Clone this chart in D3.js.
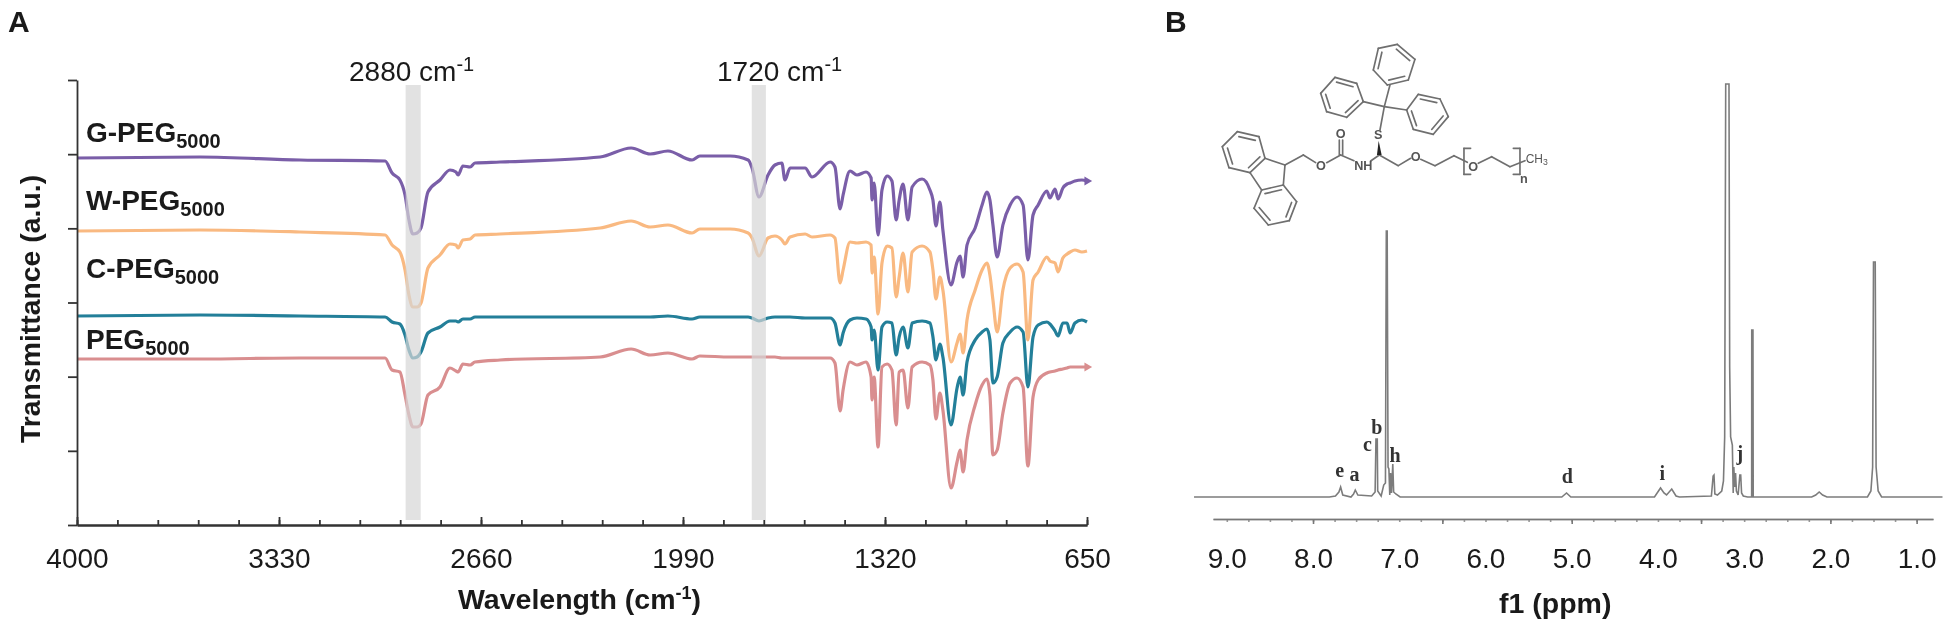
<!DOCTYPE html>
<html lang="en">
<head>
  <meta charset="UTF-8">
  <title>FTIR and NMR spectra</title>
  <script src="https://d3js.org/d3.v7.min.js"></script>
  <style>
    body { margin: 0; background: #fff; }
    svg { display: block; filter: blur(0.45px); }
    text { font-family: "Liberation Sans", Arial, sans-serif; fill: #1a1a1a; }
    .serif { font-family: "Liberation Serif", "Times New Roman", serif; fill: #333; font-weight: bold; }
    .mol { font-family: "Liberation Sans", Arial, sans-serif; fill: #555; }
  </style>
</head>
<body>
<div id="chart"></div>
<script>
// panel A - shared wavenumber grid (cm-1)
var wavenumbers = [
  4000,3592,3260,2978,2955,2929,2912,2899,2886,2872,
  2859,2836,2796,2763,2743,2736,2720,2696,2680,2597,
  2265,2162,2099,2040,1960,1934,1834,1774,1761,1738,
  1708,1685,1662,1652,1635,1585,1562,1502,1486,1469,
  1459,1436,1413,1383,1366,1363,1356,1343,1330,1313,
  1297,1283,1273,1260,1244,1230,1197,1171,1161,1151,
  1138,1128,1101,1081,1071,1061,1048,1021,998,982,
  972,962,948,929,905,882,862,846,829,812,
  783,773,756,746,730,716,706,690,667,650];

var gPeg = [
  367,368,365,364,352,345,330,305,291,292,
  297,333,345,355,353,350,359,358,362,363,
  368,377,371,374,365,369,369,365,357,328,
  350,360,362,345,357,357,348,363,358,316,
  330,354,350,353,347,325,342,290,335,349,
  344,305,325,341,305,338,346,335,325,299,
  323,295,240,263,269,248,280,297,320,333,
  325,300,268,300,320,328,320,265,310,320,
  334,327,336,326,337,341,342,344,345,344];
var wPeg = [
  294,295,293,290,280,273,255,230,218,218,
  222,257,270,281,280,277,285,286,290,291,
  297,304,298,300,292,296,296,292,287,269,
  287,289,285,281,288,291,288,290,287,242,
  255,283,282,283,280,252,268,211,262,279,
  277,228,248,272,233,273,279,273,255,226,
  248,235,163,182,191,172,205,235,255,262,
  250,225,193,235,257,261,253,185,245,253,
  268,264,262,253,267,271,273,275,273,274];
var cPeg = [
  209,210,209,208,203,201,190,175,167,168,
  173,192,198,204,204,203,206,206,208,208,
  208,208,208,209,206,208,208,208,207,204,
  207,208,208,208,208,207,207,207,202,180,
  192,205,207,206,198,185,195,155,198,203,
  202,170,188,198,177,202,204,202,188,165,
  181,168,100,137,148,130,163,185,193,196,
  185,142,148,182,193,198,193,138,188,200,
  203,201,194,189,202,202,192,202,205,203];
var peg = [
  166,166,167,167,155,153,130,110,98,98,
  101,130,138,157,154,153,161,160,163,165,
  168,176,170,172,166,169,168,168,168,168,
  168,168,167,167,167,167,167,167,162,114,
  135,163,160,163,148,125,148,78,158,161,
  155,100,153,155,117,158,163,160,145,106,
  132,115,37,63,75,53,85,120,140,146,
  130,70,75,112,142,147,138,59,128,145,
  152,153,154,155,156,157,158,158,158,158];

var xMajor = [4000,3330,2660,1990,1320,650];
var xMinor = d3.range(4000, 640, -134);
var yTicks = [0,1,2,3,4,5,6].map(function (d) { return d * 445 / 6; });

// panel B - 1H NMR trace, ppm against intensity
var ppm = [
  9.38,7.81,7.74,7.70,7.68,7.655,7.56,7.53,7.51,7.48,
  7.32,7.28,7.27,7.255,7.25,7.21,7.18,7.16,7.15,7.14,
  7.13,7.12,7.11,7.10,7.09,7.075,7.065,7.04,6.99,
  5.115,5.06,5.01,
  4.04,3.97,3.93,3.90,3.84,3.79,3.75,
  3.38,3.36,3.35,3.34,3.31,3.26,3.24,3.226,3.214,3.176,3.168,3.157,3.137,3.127,
  3.12,3.11,3.10,3.09,3.07,3.05,3.04,3.03,3.01,2.96,
  2.913,2.912,2.898,2.895,
  2.217,2.17,2.13,2.09,2.04,
  1.57,1.53,1.51,1.50,1.48,1.47,1.446,1.406,0.70];
var intensity = [
  0,0,1,5,10,2,0,3,7,2,
  1,5,58,58,6,1,12,14,266,266,
  30,28,2,24,4,33,5,3,0,
  0,4,0,
  0,9,4,2,8,1,0,
  1,21,22,3,2,6,16,60,413,413,130,60,52,4,
  30,10,24,6,2,22,22,4,1,0,
  0,167,167,0,
  0,2,5,2,0,
  0,6,30,235,235,30,6,0,0];

var ppmLabels = [9,8,7,6,5,4,3,2,1];
var ppmMinor = d3.range(9, 0.9, -0.25);
var ppmMajor = [8,6.5,5,3.5,2,1];
var peakNames = ["e","a","c","b","h","d","i","j"];
var peakPpm = [7.69,7.52,7.37,7.26,7.05,5.05,3.95,3.05];
var peakHeight = [20,16,46,63,35,14,17,37];

// molecule, drawn in a 3x grid
var rings = [
  [[742,133],[795,178],[775,240],[712,255],[670,210],[685,145]],
  [[555,232],[620,250],[640,305],[590,352],[530,335],[512,280]],
  [[805,283],[870,297],[895,350],[850,403],[790,388],[770,330]],
  [[262,395],[327,410],[345,475],[300,518],[237,503],[217,440]],
  [[335,570],[400,555],[440,605],[418,662],[355,675],[312,625]]
];
var bonds = [
  [[703,320],[720,255]],[[703,320],[640,305]],[[703,320],[770,330]],[[703,320],[690,390]],
  [[688,465],[662,483]],[[612,482],[572,465]],[[568,465],[568,420]],[[578,465],[578,420]],
  [[572,465],[530,488]],[[497,488],[460,465]],[[460,465],[405,495]],[[405,495],[345,475]],
  [[405,495],[400,555]],[[335,570],[300,518]],
  [[688,465],[745,497]],[[745,497],[782,475]],[[812,478],[855,497]],[[855,497],[912,467]],
  [[912,467],[952,487]],[[985,490],[1025,470]],[[1025,470],[1080,500]],[[1080,500],[1125,482]],
  [[962,445],[942,445]],[[942,445],[942,523]],[[942,523],[962,523]],
  [[1090,445],[1110,445]],[[1110,445],[1110,523]],[[1110,523],[1090,523]]
];
var atoms = [
  ["O",572,415],["O",513,509],["NH",640,511],["S",685,416],["O",797,482],["O",970,512],["n",1122,548]
];

var width = 1950, height = 627;
var svg = d3.select("#chart").append("svg").attr("width", width).attr("height", height);

// ---- panel A ----
var x = d3.scaleLinear().domain([4000, 650]).range([77, 1087]);
var y = d3.scaleLinear().domain([0, 445]).range([525, 80]);

var lineA = d3.line()
  .x(function (d) { return x(d[0]); })
  .y(function (d) { return y(d[1]); })
  .curve(d3.curveMonotoneX);

// pink first, purple last so the overlaps fall like the original
var series = [
  { values: peg,  color: "#d98e8f", tip: true },
  { values: cPeg, color: "#237f99", tip: false },
  { values: wPeg, color: "#f9b981", tip: false },
  { values: gPeg, color: "#7a5ea8", tip: true }
];
series.forEach(function (s) {
  svg.append("path")
    .datum(d3.zip(wavenumbers, s.values))
    .attr("d", lineA)
    .attr("fill", "none")
    .attr("stroke", s.color)
    .attr("stroke-width", 3.2)
    .attr("stroke-linejoin", "round");
  // small arrow-like end of the trace
  if (s.tip) {
    svg.append("path")
      .attr("d", d3.symbol(d3.symbolTriangle, 34))
      .attr("transform", "translate(" + x(650) + "," + y(s.values[s.values.length - 1]) + ") rotate(90)")
      .attr("fill", s.color);
  }
});

// the grey bands lie over the curves and wash them out
[[2910, 2860], [1762, 1715]].forEach(function (b) {
  svg.append("rect")
    .attr("x", x(b[0]))
    .attr("width", x(b[1]) - x(b[0]))
    .attr("y", y(440))
    .attr("height", y(5) - y(440))
    .attr("fill", "#d6d6d6")
    .attr("opacity", 0.7);
});

function styleAxis(g, color, w) {
  g.selectAll("path,line").attr("stroke", color).attr("stroke-width", w);
  g.selectAll("text").style("font-size", "28px");
}

svg.append("g").attr("transform", "translate(0,525)")
  .call(d3.axisBottom(x).tickValues(xMinor).tickSize(-5).tickSizeOuter(0).tickFormat(""))
  .call(styleAxis, "#333", 1.8);
svg.append("g").attr("transform", "translate(0,525)")
  .call(d3.axisBottom(x).tickValues(xMajor).tickSize(-8).tickSizeOuter(0).tickPadding(23).tickFormat(d3.format("d")))
  .call(styleAxis, "#333", 1.8);
svg.append("g").attr("transform", "translate(77,0)")
  .call(d3.axisLeft(y).tickValues(yTicks).tickSize(9).tickSizeOuter(0).tickFormat(""))
  .call(styleAxis, "#333", 1.8);

function labelWithScript(px, py, main, script, after, size, scriptSize, shift, weight) {
  var t = svg.append("text").attr("x", px).attr("y", py)
    .style("font-size", size + "px").style("font-weight", weight).text(main);
  t.append("tspan").attr("dy", shift).style("font-size", scriptSize + "px").text(script);
  if (after) t.append("tspan").attr("dy", -shift).text(after);
  return t;
}

labelWithScript(86, 142, "G-PEG", "5000", "", 28, 20, 6, "bold");
labelWithScript(86, 210, "W-PEG", "5000", "", 28, 20, 6, "bold");
labelWithScript(86, 278, "C-PEG", "5000", "", 28, 20, 6, "bold");
labelWithScript(86, 349, "PEG", "5000", "", 28, 20, 6, "bold");

labelWithScript(349, 81, "2880 cm", "-1", "", 28, 20, -10, "normal");
labelWithScript(717, 81, "1720 cm", "-1", "", 28, 20, -10, "normal");
labelWithScript(458, 609, "Wavelength (cm", "-1", ")", 28.5, 18, -10, "bold");

svg.append("text")
  .attr("transform", "translate(40,309) rotate(-90)")
  .attr("text-anchor", "middle")
  .style("font-size", "28.4px").style("font-weight", "bold")
  .text("Transmittance (a.u.)");

svg.append("text").attr("x", 8).attr("y", 32)
  .style("font-size", "30px").style("font-weight", "bold").text("A");
svg.append("text").attr("x", 1165).attr("y", 32)
  .style("font-size", "30px").style("font-weight", "bold").text("B");

// ---- panel B ----
var xB = d3.scaleLinear().domain([9.16, 0.81]).range([1213, 1933]);
var yB = d3.scaleLinear().domain([0, 413]).range([497, 84]);

svg.append("path")
  .datum(d3.zip(ppm, intensity))
  .attr("d", d3.line()
    .x(function (d) { return xB(d[0]); })
    .y(function (d) { return yB(d[1]); }))
  .attr("fill", "none")
  .attr("stroke", "#7c7c7c")
  .attr("stroke-width", 1.6);

svg.append("g").attr("transform", "translate(0,519)")
  .call(d3.axisBottom(xB).tickValues(ppmMinor).tickSize(3).tickSizeOuter(0).tickFormat(""))
  .call(styleAxis, "#999", 1.6);
svg.append("g").attr("transform", "translate(0,519)")
  .call(d3.axisBottom(xB).tickValues(ppmMajor).tickSize(5).tickSizeOuter(0).tickFormat(""))
  .call(styleAxis, "#777", 1.6);
svg.append("g").attr("transform", "translate(0,519)")
  .call(d3.axisBottom(xB).tickValues(ppmLabels).tickSize(0).tickPadding(29).tickFormat(d3.format(".1f")))
  .call(styleAxis, "none", 0);

svg.append("text").attr("x", 1499).attr("y", 613)
  .style("font-size", "28.5px").style("font-weight", "bold").text("f1 (ppm)");

peakNames.forEach(function (name, i) {
  svg.append("text").attr("class", "serif")
    .attr("x", xB(peakPpm[i]))
    .attr("y", yB(peakHeight[i]))
    .attr("text-anchor", "middle")
    .style("font-size", "20px")
    .text(name);
});

// ---- molecule ----
var mol = svg.append("g").attr("transform", "translate(1150,0) scale(0.3333)");
var molLine = d3.line();
function addBond(a, b) {
  mol.append("path").attr("d", molLine([a, b]))
    .attr("stroke", "#6f6f6f").attr("stroke-width", 5).attr("fill", "none").attr("stroke-linecap", "round");
}
rings.forEach(function (ring) {
  var cx = d3.mean(ring, function (p) { return p[0]; });
  var cy = d3.mean(ring, function (p) { return p[1]; });
  ring.forEach(function (p, i) {
    var q = ring[(i + 1) % 6];
    addBond(p, q);
    // inner line of the double bonds, every second edge
    if (i % 2 === 0) {
      var k = 0.76;
      var a = [cx + (p[0] - cx) * k, cy + (p[1] - cy) * k];
      var b = [cx + (q[0] - cx) * k, cy + (q[1] - cy) * k];
      addBond(a, b);
    }
  });
});
bonds.forEach(function (b) { addBond(b[0], b[1]); });

mol.append("path")
  .attr("d", molLine([[681, 465], [695, 465], [686, 422]]) + "Z")
  .attr("fill", "#222");

atoms.forEach(function (a) {
  mol.append("text").attr("class", "mol")
    .attr("x", a[1]).attr("y", a[2])
    .attr("text-anchor", "middle")
    .style("font-size", "38px")
    .style("font-weight", "bold")
    .text(a[0]);
});
var ch3 = mol.append("text").attr("class", "mol").attr("x", 1127).attr("y", 490).style("font-size", "36px").text("CH");
ch3.append("tspan").attr("dy", 6).style("font-size", "26px").text("3");
</script>
</body>
</html>
